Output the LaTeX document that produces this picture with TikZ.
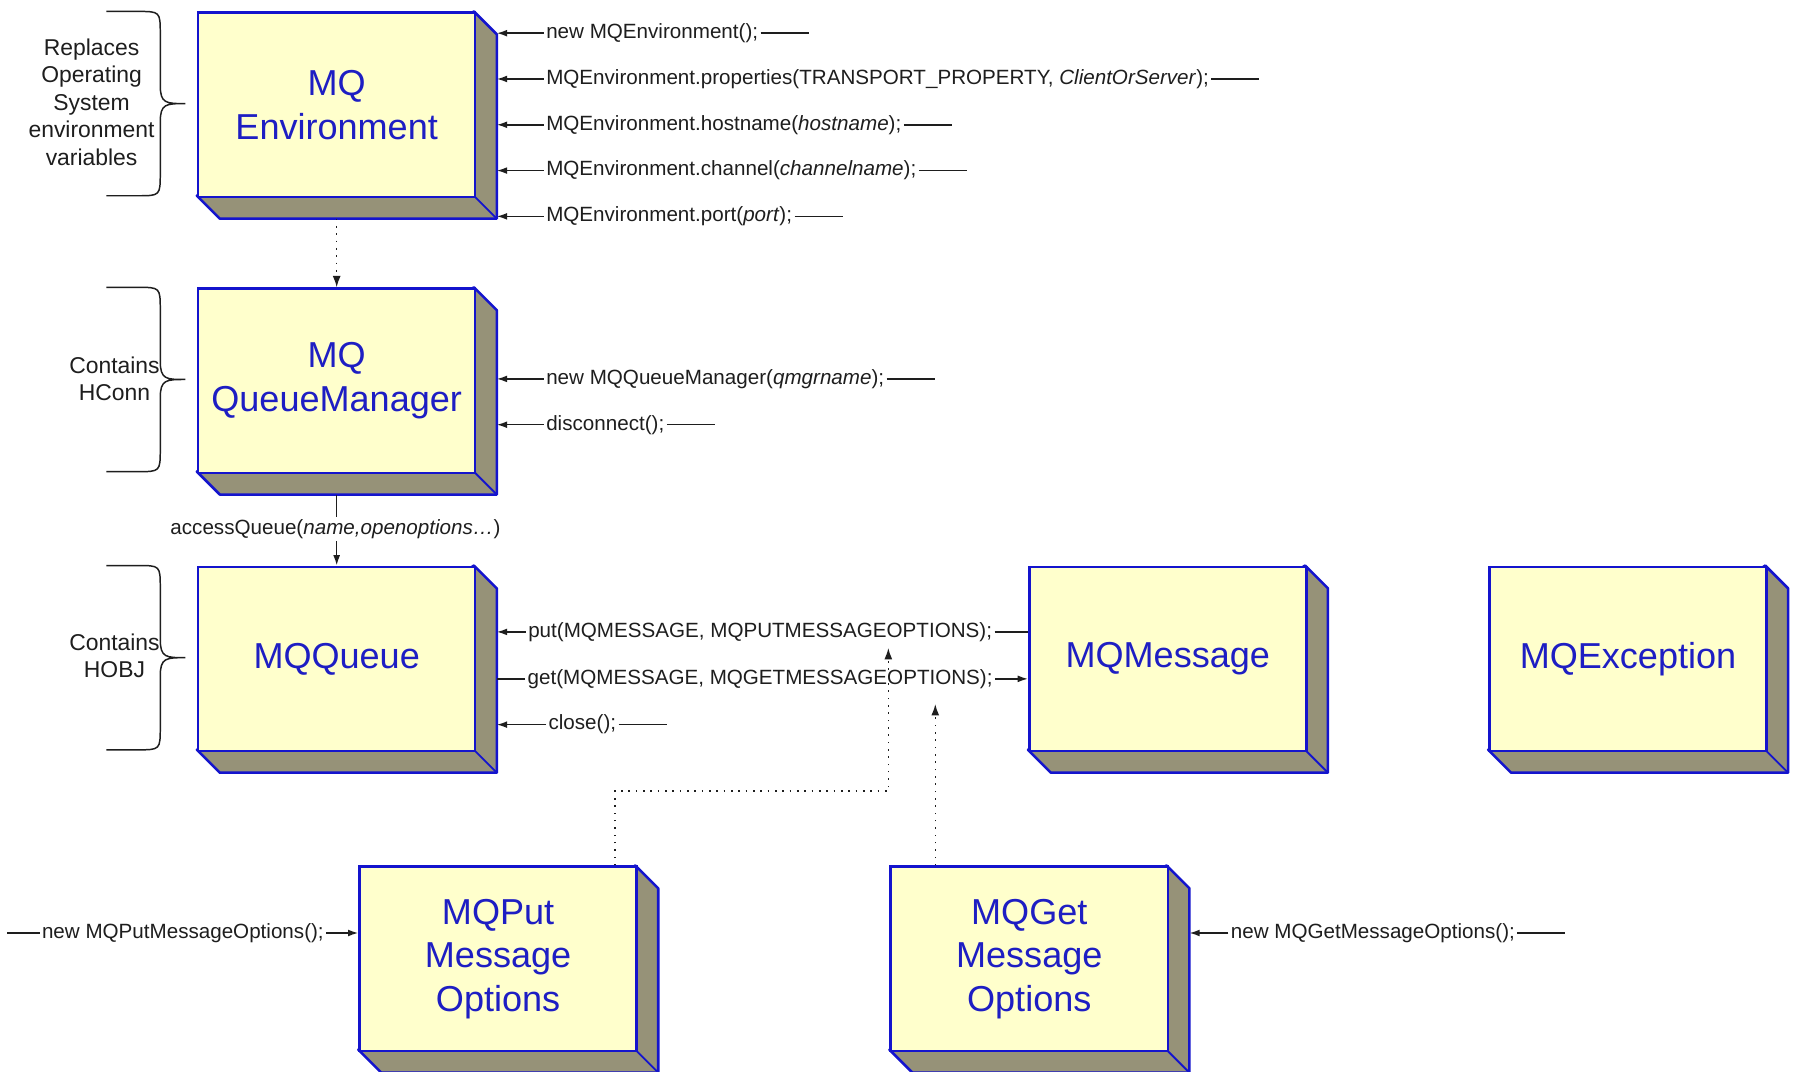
\documentclass[tikz,border=0pt]{standalone}
\usepackage{fontspec}
\setmainfont{Liberation Sans}
\usetikzlibrary{arrows.meta}
\definecolor{facecol}{RGB}{255,255,204}
\definecolor{depthcol}{RGB}{150,146,120}
\definecolor{bordercol}{RGB}{20,20,205}
\definecolor{titlecol}{RGB}{30,30,195}
\definecolor{inkcol}{RGB}{30,30,30}
\def\bw{242}
\def\bh{161}
\def\bd{20}
\tikzset{
  face/.style={fill=facecol, draw=bordercol, line width=2.2pt, text=titlecol,
    minimum width=242pt, minimum height=161pt, inner sep=0pt, align=center,
    font=\fontsize{31.5}{38}\selectfont},
  depthface/.style={fill=depthcol, draw=bordercol, line width=2.2pt, line join=round},
  ghost/.style={inner sep=0pt, outer sep=0pt},
  lbl/.style={text=inkcol, inner sep=2pt, font=\fontsize{18}{21}\selectfont},
  bracelbl/.style={text=inkcol, align=center, inner sep=0pt, font=\fontsize{20}{24}\selectfont},
  conn/.style={draw=inkcol, line width=1.3pt},
  arr/.style={conn, -{Latex[length=9pt,width=6pt]}},
  dotarr/.style={conn, dash pattern=on 1.4pt off 5pt, -{Latex[length=10pt,width=7pt]}},
  bracepath/.style={draw=inkcol, line width=1.3pt},
}
% #1 name, #2 x, #3 y, #4 title
\newcommand\mqbox[4]{%
  \filldraw[depthface] ({#2+\bw},{#3}) -- ({#2+\bw+\bd},{#3+\bd}) -- ({#2+\bw+\bd},{#3+\bh+\bd})
     -- ({#2+\bd},{#3+\bh+\bd}) -- ({#2},{#3+\bh}) -- cycle;
  \draw[bordercol, line width=1.6pt] ({#2+\bw},{#3+\bh}) -- ({#2+\bw+\bd},{#3+\bh+\bd});
  \node[face, anchor=north west] (#1) at ({#2},{#3}) {#4};
  \node[ghost, anchor=north west, minimum width=20pt, minimum height=161pt] (#1-side) at ({#2+\bw},{#3}) {};
  \node[ghost, anchor=north west, minimum width=262pt, minimum height=20pt] (#1-bot) at ({#2},{#3+\bh}) {};
}
% label with arrow into a box side: #1 name, #2 side node, #3 x, #4 y, #5 text
\newcommand\callin[5]{%
  \node[lbl, anchor=west] (#1) at ({#3},{#4}) {#5};
  \draw[arr] (#1.west) -- (#1.west -| #2.east);
  \draw[conn] (#1.east) -- ++(42,0);
}
% brace: #1 top, #2 bottom
\newcommand\mybrace[2]{%
  \draw[bracepath] (93,{#1}) -- (120,{#1}) .. controls (140,{#1}) and (140,{#1}) .. (140,{#1+20})
    -- (140,{(#1+#2)/2-16}) .. controls (140,{(#1+#2)/2}) and (145,{(#1+#2)/2}) .. (162,{(#1+#2)/2})
    .. controls (145,{(#1+#2)/2}) and (140,{(#1+#2)/2}) .. (140,{(#1+#2)/2+16})
    -- (140,{#2-20}) .. controls (140,{#2}) and (140,{#2}) .. (120,{#2}) -- (93,{#2});
}
\begin{document}
\begin{tikzpicture}[x=1pt,y=-1pt]
\useasboundingbox (0,0) rectangle (1568,936);
\fill[white] (0,0) rectangle (1568,936);

% boxes
\mqbox{env}{172}{10}{MQ\\Environment}
\mqbox{qm}{172}{251}{MQ\\QueueManager}
\mqbox{q}{172}{494}{MQQueue}
\mqbox{msg}{898}{494}{MQMessage}
\mqbox{exc}{1300}{494}{MQException}
\mqbox{pmo}{313}{756}{MQPut\\Message\\Options}
\mqbox{gmo}{777}{756}{MQGet\\Message\\Options}

% braces and their texts
\mybrace{10}{171}
\mybrace{251}{412}
\mybrace{494}{655}
\node[bracelbl] (envnote) at (80,89) {Replaces\\Operating\\System\\environment\\variables};
\node[bracelbl] (qmnote) at (100,331) {Contains\\HConn};
\node[bracelbl] (qnote) at (100,573) {Contains\\HOBJ};

% MQEnvironment calls
\callin{e1}{env-side}{475}{29}{new MQEnvironment();}
\callin{e2}{env-side}{475}{69}{MQEnvironment.properties(TRANSPORT\_PROPERTY, \textit{ClientOrServer});}
\callin{e3}{env-side}{475}{109}{MQEnvironment.hostname(\textit{hostname});}
\callin{e4}{env-side}{475}{149}{MQEnvironment.channel(\textit{channelname});}
\callin{e5}{env-side}{475}{189}{MQEnvironment.port(\textit{port});}

% MQQueueManager calls
\callin{m1}{qm-side}{475}{331}{new MQQueueManager(\textit{qmgrname});}
\callin{m2}{qm-side}{475}{371}{disconnect();}

% MQQueue close
\callin{c1}{q-side}{477}{633}{close();}

% env -> qm dotted
\draw[dotarr] (env.south |- env-bot.south) -- (qm.north);

% accessQueue
\node[lbl] (aq) at (293,462) {accessQueue(\textit{name,openoptions…})};
\draw[conn] (qm.south |- qm-bot.south) -- (qm.south |- aq.north);
\draw[arr] (q.north |- aq.south) -- (q.north);

% put / get
\node[lbl] (put) at (664,552) {put(MQMESSAGE, MQPUTMESSAGEOPTIONS);};
\draw[arr] (put.west) -- (put.west -| q-side.east);
\draw[conn] (put.east) -- (put.east -| msg.west);
\node[lbl] (get) at (664,593) {get(MQMESSAGE, MQGETMESSAGEOPTIONS);};
\draw[conn] (get.west) -- (get.west -| q-side.east);
\draw[arr] (get.east) -- (get.east -| msg.west);

% option dotted links
\coordinate (putTip) at (776,566);
\coordinate (getTip) at (817,615);
\draw[dotarr] ([xshift=-20pt]pmo.north east) -- ++(0,-65) -| (putTip);
\draw[dotarr] ([xshift=40pt]gmo.north west) -- (getTip);

% constructors of option objects
\node[lbl, anchor=east] (pmol) at (285,815) {new MQPutMessageOptions();};
\draw[conn] (pmol.west) -- ++(-28,0);
\draw[arr] (pmol.east) -- (pmol.east -| pmo.west);
\callin{g1}{gmo-side}{1073}{815}{new MQGetMessageOptions();}
\end{tikzpicture}
\end{document}
